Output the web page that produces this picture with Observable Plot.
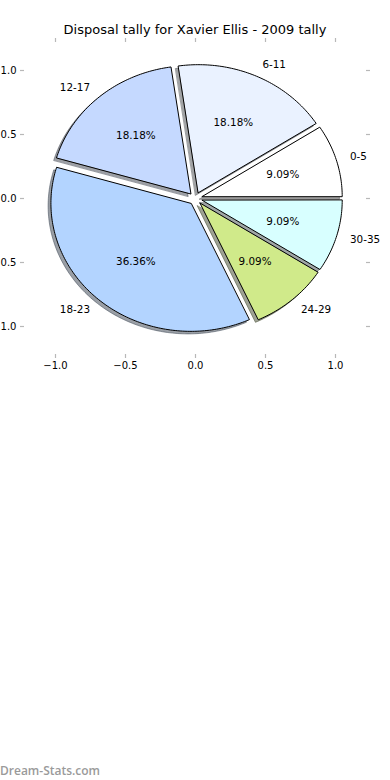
<!DOCTYPE html>
<html>
<head>
<meta charset="utf-8">
<script src="https://cdn.jsdelivr.net/npm/d3@7"></script>
<script src="https://cdn.jsdelivr.net/npm/@observablehq/plot@0.6"></script>
<style>
  html, body { margin: 0; padding: 0; background: white; }
  #wrap { position: relative; width: 390px; height: 780px; overflow: hidden; }
  #title { height: 38px; width: 390px; text-align: center; font-family: "DejaVu Sans", sans-serif; font-size: 13px; line-height: 13px; box-sizing: border-box; padding-top: 23px; color: #000; }
  #mark { position: absolute; left: 0; top: 762px; font-family: "Open Sans", sans-serif; font-weight: 600; font-size: 12px; color: #9a9a9a; }
</style>
</head>
<body>
<div id="wrap">
  <div id="title">Disposal tally for Xavier Ellis - 2009 tally</div>
  <div id="chart"></div>
  <div id="mark">Dream-Stats.com</div>
</div>
<script>
const categories = ["0-5", "6-11", "12-17", "18-23", "24-29", "30-35"];
const counts = [1, 2, 2, 4, 1, 1];
const colors = ["#ffffff", "#eaf2ff", "#c5d9ff", "#b3d4ff", "#d0ea8a", "#d8ffff"];
const xTicks = [-1, -0.5, 0, 0.5, 1];
const yTicks = [-1, -0.5, 0, 0.5, 1];

const explode = 0.05;
const total = d3.sum(counts);
let acc = 0;
const wedges = categories.map((cat, i) => {
  const a0 = acc / total * 2 * Math.PI;
  acc += counts[i];
  const a1 = acc / total * 2 * Math.PI;
  const m = (a0 + a1) / 2;
  const cx = explode * Math.cos(m), cy = explode * Math.sin(m);
  const pts = [{x: cx, y: cy}];
  const n = Math.max(4, Math.ceil((a1 - a0) / (Math.PI / 180)));
  for (let k = 0; k <= n; k++) {
    const a = a0 + (a1 - a0) * k / n;
    pts.push({x: cx + Math.cos(a), y: cy + Math.sin(a)});
  }
  return {
    cat, color: colors[i], pts, m, cx, cy,
    pct: (counts[i] / total * 100).toFixed(2) + "%"
  };
});

function shade(c) {
  const r = d3.rgb(c);
  return d3.rgb(r.r * 0.3, r.g * 0.3, r.b * 0.3).formatHex();
}

const labels = wedges.map(w => ({
  text: w.cat,
  x: w.cx + 1.1 * Math.cos(w.m),
  y: w.cy + 1.1 * Math.sin(w.m),
  right: Math.cos(w.m) > 0
}));
const pcts = wedges.map(w => ({
  text: w.pct,
  x: w.cx + 0.6 * Math.cos(w.m),
  y: w.cy + 0.6 * Math.sin(w.m)
}));

const fmt = d => d.toFixed(1).replace("-", "\u2212");
const tickColor = "#b8b8b8";

const chart = Plot.plot({
  width: 390,
  height: 742,
  marginTop: 0,
  marginBottom: 422,
  marginLeft: 20,
  marginRight: 20,
  x: {domain: [-1.25, 1.25], axis: null},
  y: {domain: [-1.25, 1.25], axis: null},
  style: {fontFamily: "DejaVu Sans, sans-serif", fontSize: "10px", background: "white", color: "black"},
  marks: [
    ...wedges.map(w => Plot.line(w.pts.map(p => ({x: p.x - 0.02, y: p.y - 0.02})), {
      x: "x", y: "y", curve: "linear-closed",
      fill: shade(w.color), fillOpacity: 0.5, stroke: shade(w.color), strokeOpacity: 0.5, strokeWidth: 1
    })),
    ...wedges.map(w => Plot.line(w.pts, {
      x: "x", y: "y", curve: "linear-closed",
      fill: w.color, stroke: "black", strokeWidth: 1, strokeLinejoin: "round"
    })),
    Plot.text(labels.filter(d => d.right), {x: "x", y: "y", text: "text", textAnchor: "start", fontSize: 10.4}),
    Plot.text(labels.filter(d => !d.right), {x: "x", y: "y", text: "text", textAnchor: "end", fontSize: 10.4}),
    Plot.text(pcts, {x: "x", y: "y", text: "text", textAnchor: "middle", fontSize: 10.4}),
    Plot.ruleX(xTicks, {x: d => d, insetTop: 316, stroke: tickColor, strokeWidth: 1.2}),
    Plot.ruleX(xTicks, {x: d => d, insetBottom: 316, stroke: tickColor, strokeWidth: 1.2}),
    Plot.ruleY(yTicks, {y: d => d, insetRight: 346, stroke: tickColor, strokeWidth: 1.2}),
    Plot.ruleY(yTicks, {y: d => d, insetLeft: 346, stroke: tickColor, strokeWidth: 1.2}),
    Plot.axisX(xTicks, {anchor: "bottom", tickSize: 0, tickPadding: 3.5, tickFormat: fmt, fontSize: 10, label: null}),
    Plot.axisY(yTicks, {anchor: "left", tickSize: 0, tickPadding: 4, tickFormat: fmt, fontSize: 10, label: null})
  ]
});
document.getElementById("chart").appendChild(chart);
</script>
</body>
</html>
